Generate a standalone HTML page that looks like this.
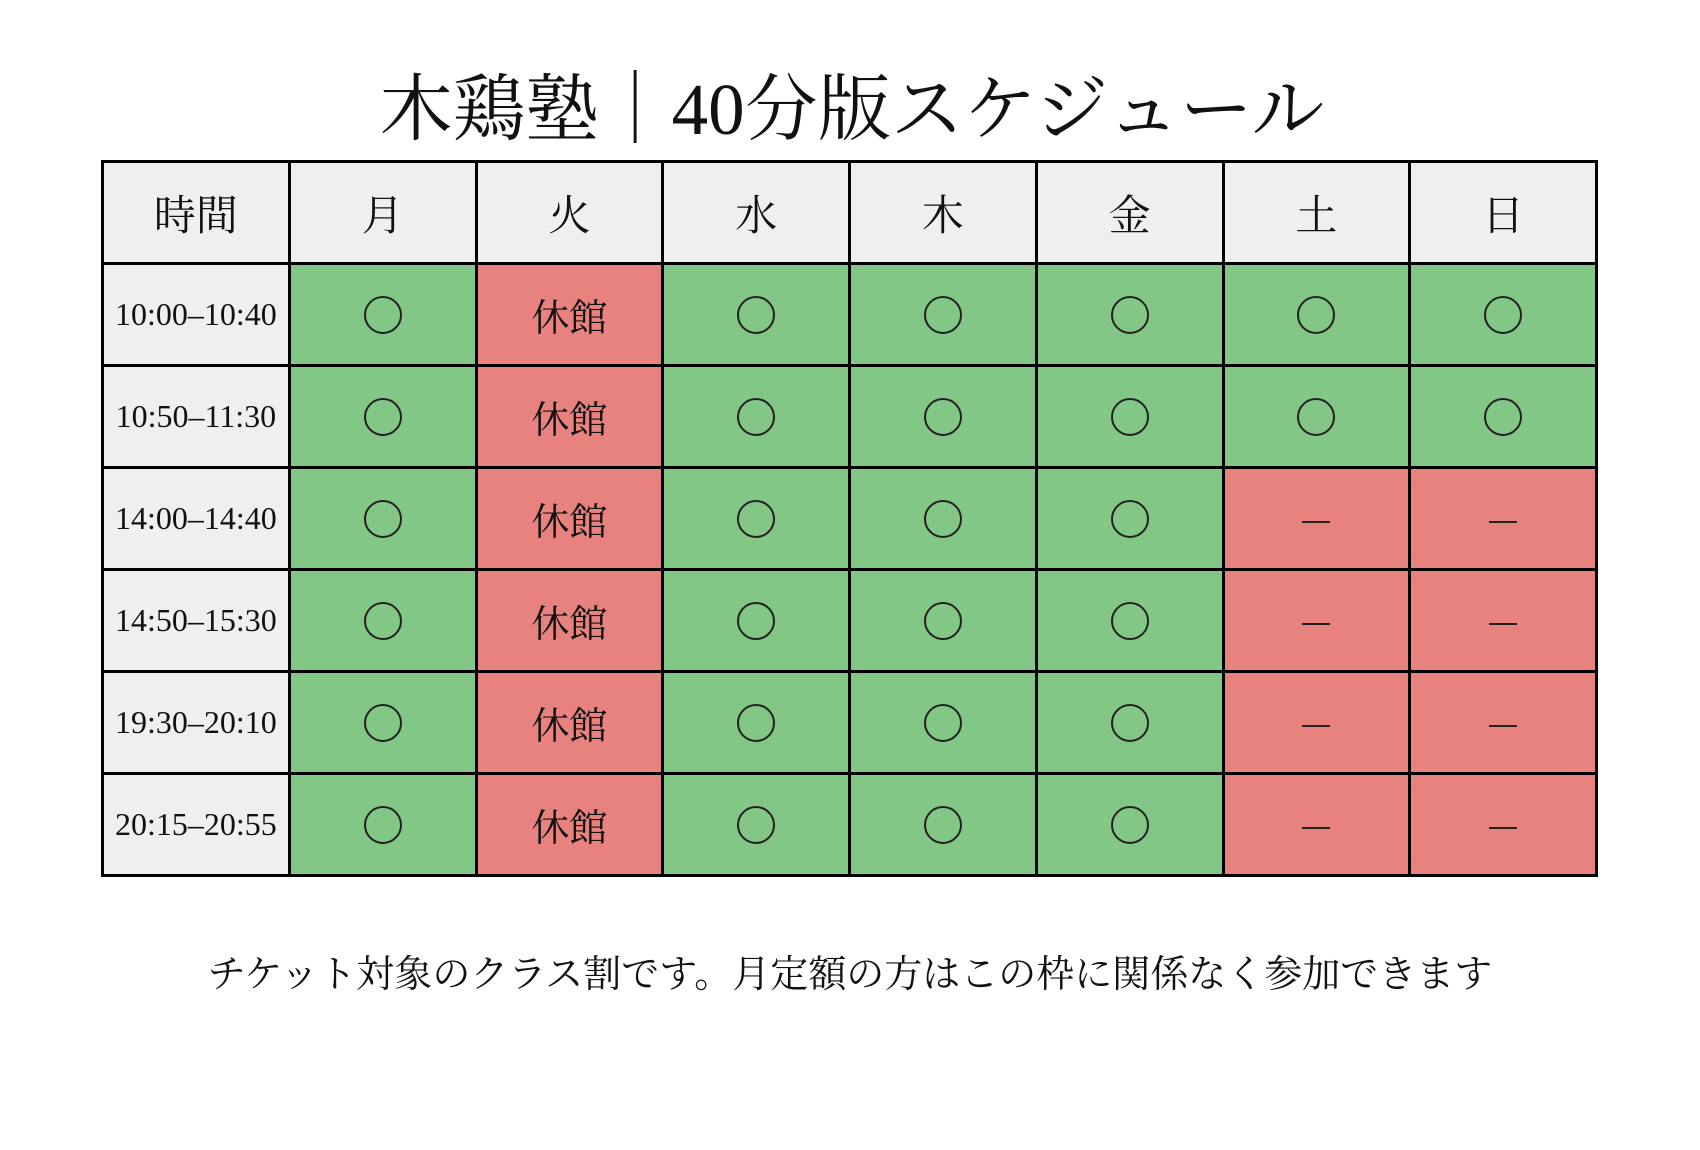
<!DOCTYPE html>
<html><head><meta charset="utf-8"><style>
html,body{margin:0;padding:0;background:#fff;}
body{width:1700px;height:1150px;position:relative;overflow:hidden;font-family:"Liberation Serif","Noto Serif CJK JP","Noto Serif CJK SC",serif;color:#111;}
.title{position:absolute;left:0;width:1704px;top:65px;text-align:center;font-size:73px;line-height:90px;}
table{position:absolute;left:101px;top:160px;border-collapse:collapse;table-layout:fixed;width:1497px;height:715px;}
td{border:3px solid #000;height:99px;padding:0;text-align:center;vertical-align:middle;}
.h{background:#efefef;font-size:42px;}
.t{background:#efefef;font-size:32px;}
.g{background:#82c785;}
.r{background:#e8827f;font-size:38px;}
.c{display:inline-block;vertical-align:middle;width:34px;height:34px;border:2px solid #222;border-radius:50%;}
.d{display:inline-block;vertical-align:middle;width:28px;height:2px;background:#222;}
.foot{position:absolute;left:0;width:1700px;top:950px;text-align:center;font-size:38px;line-height:50px;}
</style></head><body>
<div class="title">木鶏塾｜40分版スケジュール</div>
<table>
<tr><td class="h">時間</td><td class="h">月</td><td class="h">火</td><td class="h">水</td><td class="h">木</td><td class="h">金</td><td class="h">土</td><td class="h">日</td></tr>
<tr><td class="t">10:00–10:40</td><td class="g"><span class="c"></span></td><td class="r">休館</td><td class="g"><span class="c"></span></td><td class="g"><span class="c"></span></td><td class="g"><span class="c"></span></td><td class="g"><span class="c"></span></td><td class="g"><span class="c"></span></td></tr>
<tr><td class="t">10:50–11:30</td><td class="g"><span class="c"></span></td><td class="r">休館</td><td class="g"><span class="c"></span></td><td class="g"><span class="c"></span></td><td class="g"><span class="c"></span></td><td class="g"><span class="c"></span></td><td class="g"><span class="c"></span></td></tr>
<tr><td class="t">14:00–14:40</td><td class="g"><span class="c"></span></td><td class="r">休館</td><td class="g"><span class="c"></span></td><td class="g"><span class="c"></span></td><td class="g"><span class="c"></span></td><td class="r"><span class="d"></span></td><td class="r"><span class="d"></span></td></tr>
<tr><td class="t">14:50–15:30</td><td class="g"><span class="c"></span></td><td class="r">休館</td><td class="g"><span class="c"></span></td><td class="g"><span class="c"></span></td><td class="g"><span class="c"></span></td><td class="r"><span class="d"></span></td><td class="r"><span class="d"></span></td></tr>
<tr><td class="t">19:30–20:10</td><td class="g"><span class="c"></span></td><td class="r">休館</td><td class="g"><span class="c"></span></td><td class="g"><span class="c"></span></td><td class="g"><span class="c"></span></td><td class="r"><span class="d"></span></td><td class="r"><span class="d"></span></td></tr>
<tr><td class="t">20:15–20:55</td><td class="g"><span class="c"></span></td><td class="r">休館</td><td class="g"><span class="c"></span></td><td class="g"><span class="c"></span></td><td class="g"><span class="c"></span></td><td class="r"><span class="d"></span></td><td class="r"><span class="d"></span></td></tr>
</table>
<div class="foot">チケット対象のクラス割です。月定額の方はこの枠に関係なく参加できます</div>
</body></html>
